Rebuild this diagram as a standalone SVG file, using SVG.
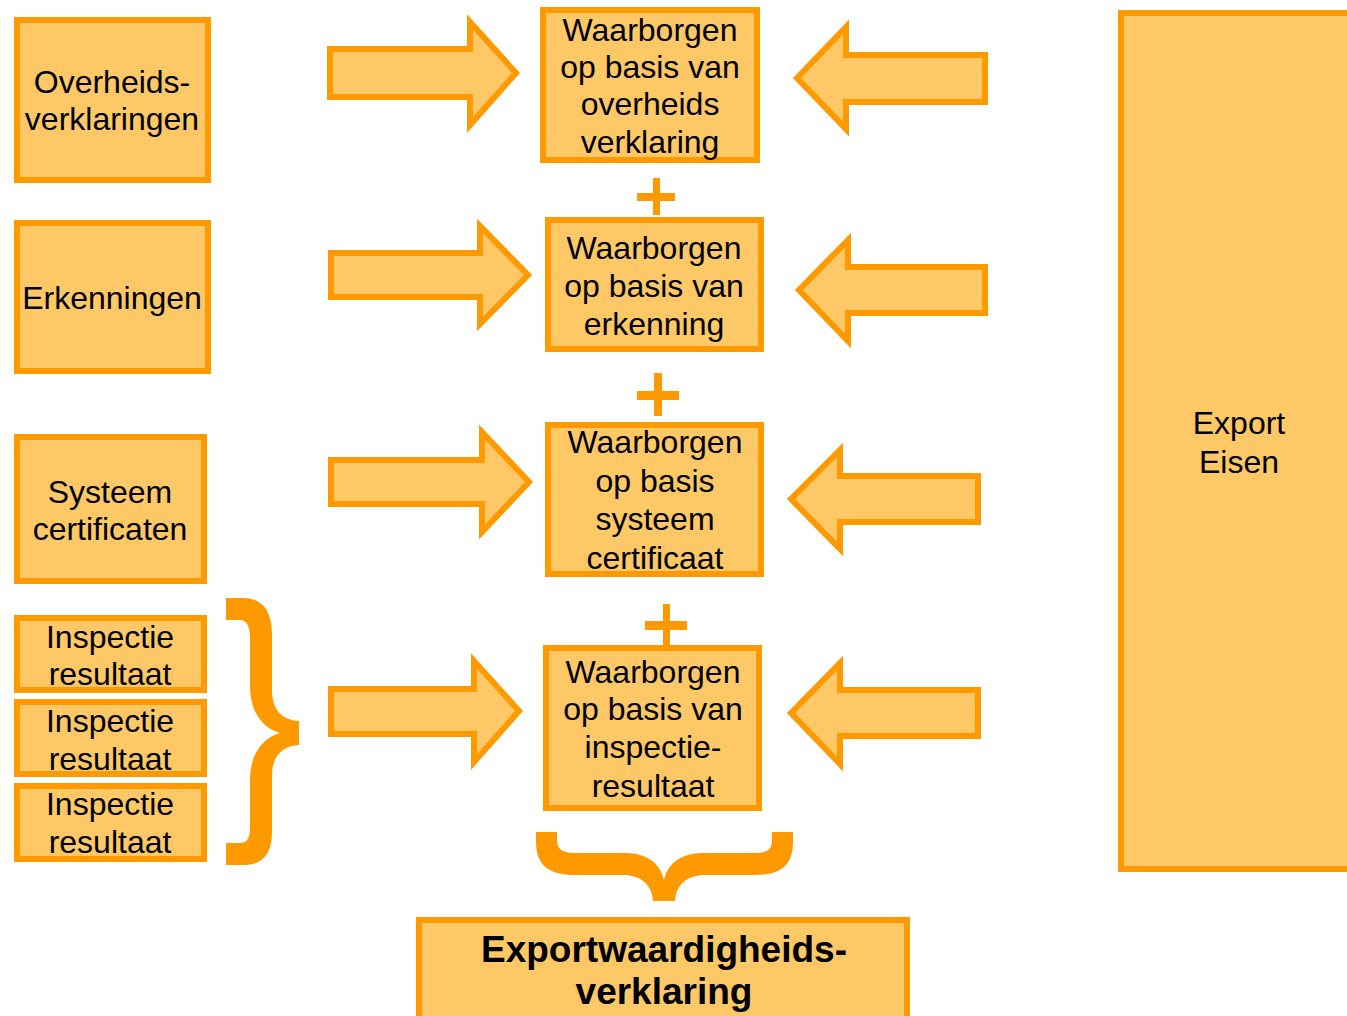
<svg xmlns="http://www.w3.org/2000/svg" width="1347" height="1016" viewBox="0 0 1347 1016">
<style>
.box{fill:#FDC865;stroke:#FF9900;stroke-width:6}
.arr{fill:#FDC865;stroke:#FF9900;stroke-width:6}
.orn{fill:#FF9900}
text{font-family:"Liberation Sans",Arial,sans-serif;font-size:32px;fill:#000;text-anchor:middle}
.b{font-weight:bold;font-size:37px}
</style>
<rect width="1347" height="1016" fill="#fff"/>
<g id="n-overheids"><rect class="box" x="17" y="20" width="191" height="160"/><text x="112" y="93">Overheids-</text><text x="112" y="130">verklaringen</text></g>
<g id="n-erkenningen"><rect class="box" x="17" y="223" width="191" height="148"/><text x="112" y="309">Erkenningen</text></g>
<g id="n-systeem"><rect class="box" x="17" y="437" width="187" height="144"/><text x="110" y="503">Systeem</text><text x="110" y="540">certificaten</text></g>
<g id="n-insp1"><rect class="box" x="17" y="618" width="187" height="72"/><text x="110" y="648">Inspectie</text><text x="110" y="685">resultaat</text></g>
<g id="n-insp2"><rect class="box" x="17" y="702" width="187" height="72"/><text x="110" y="732">Inspectie</text><text x="110" y="770">resultaat</text></g>
<g id="n-insp3"><rect class="box" x="17" y="786" width="187" height="73"/><text x="110" y="815">Inspectie</text><text x="110" y="853">resultaat</text></g>
<g id="n-wa"><rect class="box" x="543" y="10" width="214" height="150"/><text x="650" y="41">Waarborgen</text><text x="650" y="78">op basis van</text><text x="650" y="115">overheids</text><text x="650" y="153">verklaring</text></g>
<g id="n-wb"><rect class="box" x="548" y="220" width="213" height="129"/><text x="654" y="259">Waarborgen</text><text x="654" y="297">op basis van</text><text x="654" y="335">erkenning</text></g>
<g id="n-wc"><rect class="box" x="548" y="425" width="213" height="149"/><text x="655" y="453">Waarborgen</text><text x="655" y="492">op basis</text><text x="655" y="530">systeem</text><text x="655" y="569">certificaat</text></g>
<g id="n-wd"><rect class="box" x="546" y="648" width="213" height="160"/><text x="653" y="683">Waarborgen</text><text x="653" y="720">op basis van</text><text x="653" y="758">inspectie-</text><text x="653" y="797">resultaat</text></g>
<g id="n-export"><rect class="box" x="1121" y="13" width="240" height="856"/><text x="1239" y="434">Export</text><text x="1239" y="473">Eisen</text></g>
<g id="n-verklaring"><rect class="box" x="419" y="920" width="488" height="110"/><text class="b" x="664" y="962">Exportwaardigheids-</text><text class="b" x="664" y="1004">verklaring</text></g>
<g id="connectors">
<polygon class="arr" points="330,49 470,49 470,22 516,73 470,125 470,97 330,97"/>
<polygon class="arr" points="331,253 480,253 480,226 528,275 480,324 480,297 331,297"/>
<polygon class="arr" points="331,460 482,460 482,432 529,482 482,532 482,504 331,504"/>
<polygon class="arr" points="331,689 474,689 474,661 519,711 474,762 474,734 331,734"/>
<polygon class="arr" points="797,78 846,27 846,55 985,55 985,102 846,102 846,129"/>
<polygon class="arr" points="799,290 848,240 848,267 985,267 985,313 848,313 848,341"/>
<polygon class="arr" points="791,499 840,450 840,476 978,476 978,522 840,522 840,549"/>
<polygon class="arr" points="791,713 840,663 840,690 978,690 978,736 840,736 840,764"/>
<path class="orn" d="M653,178h7v37h-7z M637,193h38v8h-38z"/>
<path class="orn" d="M654,373h8v43h-8z M637,391h42v9h-42z"/>
<path class="orn" d="M663,604h7v43h-7z M645,621h42v9h-42z"/>
<path class="orn" d="M226,598 L243,598 C262,598 272,610 272,635 L272,690 C272,710 282,720 299,721 L299,745 C282,746 272,756 272,776 L272,832 C272,855 262,865 243,865 L226,865 L226,843 L240,843 C247,843 250,838 250,828 L250,780 C250,755 262,738 280,733 C262,728 250,711 250,686 L250,638 C250,627 247,620 240,620 L226,620 Z"/>
<path class="orn" d="M536,832 L557,832 L557,840 C557,849 562,853 575,853 L625,853 C645,853 660,862 664,880 C668,862 683,853 703,853 L755,853 C768,853 772,849 772,840 L772,832 L793,832 L793,842 C793,866 780,875 755,875 L705,875 C688,875 676,884 675,901 L653,901 C652,884 640,875 623,875 L575,875 C550,875 536,866 536,842 Z"/>
</g>
</svg>
